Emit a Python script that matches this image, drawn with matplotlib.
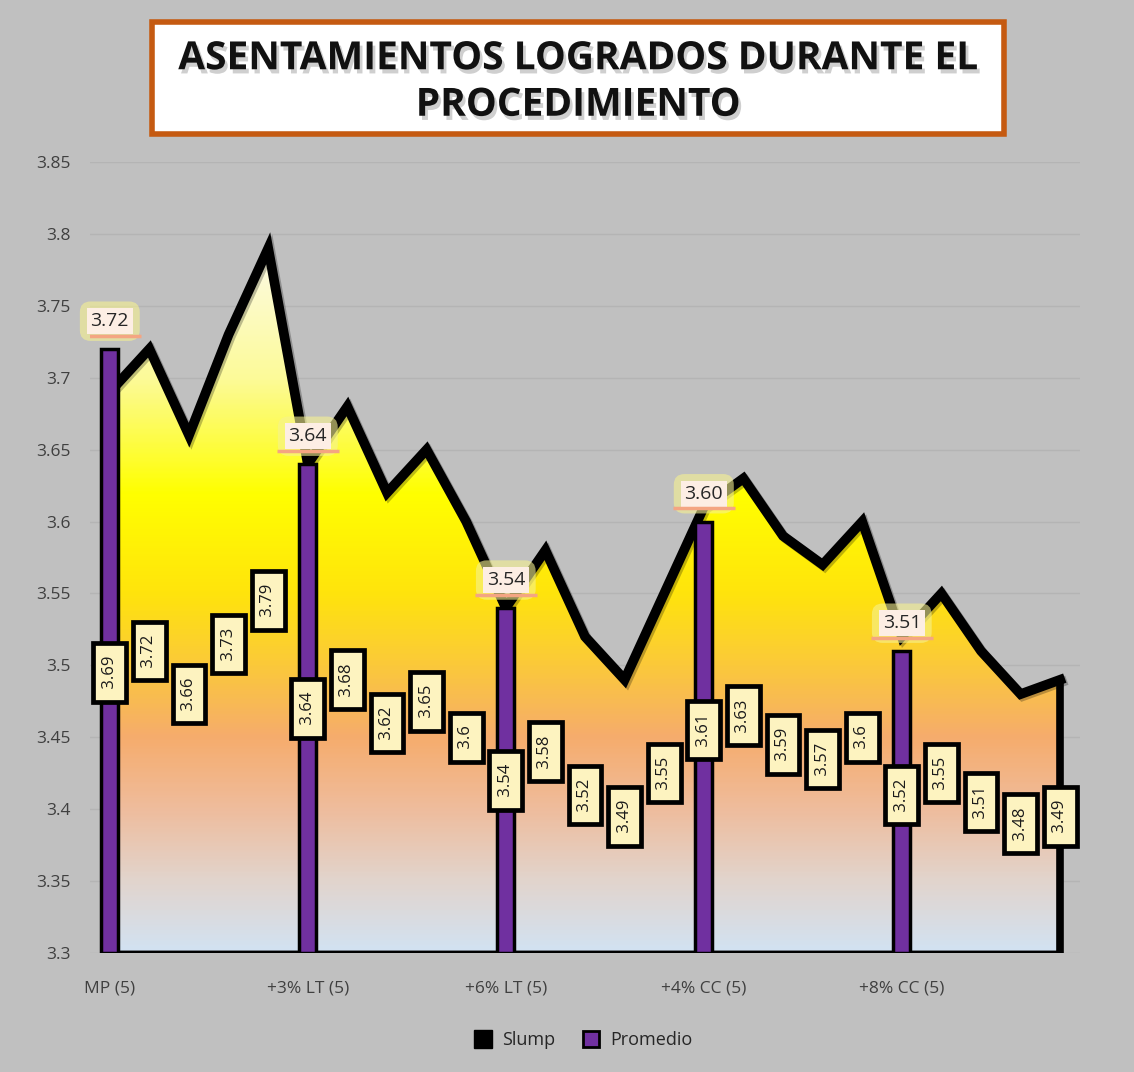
import numpy as np
import matplotlib
matplotlib.use("Agg")
import matplotlib.pyplot as plt
from matplotlib.patches import Polygon, Rectangle
from matplotlib.colors import LinearSegmentedColormap
from matplotlib.lines import Line2D
import matplotlib.patheffects as pe
import matplotlib.transforms as mtransforms

# ---------------- data ----------------
slump = [3.69, 3.72, 3.66, 3.73, 3.79,
         3.64, 3.68, 3.62, 3.65, 3.60,
         3.54, 3.58, 3.52, 3.49, 3.55,
         3.61, 3.63, 3.59, 3.57, 3.60,
         3.52, 3.55, 3.51, 3.48, 3.49]
slump_labels = ["3.69", "3.72", "3.66", "3.73", "3.79",
                "3.64", "3.68", "3.62", "3.65", "3.6",
                "3.54", "3.58", "3.52", "3.49", "3.55",
                "3.61", "3.63", "3.59", "3.57", "3.6",
                "3.52", "3.55", "3.51", "3.48", "3.49"]
promedio = [3.72, 3.64, 3.54, 3.60, 3.51]
promedio_labels = ["3.72", "3.64", "3.54", "3.60", "3.51"]
promedio_idx = [0, 5, 10, 15, 20]
categories = ["MP (5)", "+3% LT (5)", "+6% LT (5)", "+4% CC (5)", "+8% CC (5)"]
y_ticks = [3.3, 3.35, 3.4, 3.45, 3.5, 3.55, 3.6, 3.65, 3.7, 3.75, 3.8, 3.85]
y_tick_labels = ["3.3", "3.35", "3.4", "3.45", "3.5", "3.55", "3.6", "3.65",
                 "3.7", "3.75", "3.8", "3.85"]
title = "ASENTAMIENTOS LOGRADOS DURANTE EL\nPROCEDIMIENTO"

BASE = 3.3
plt.rcParams['font.family'] = ['Open Sans', 'DejaVu Sans']

BG = '#c0c0c0'
fig = plt.figure(figsize=(11.34, 10.72), dpi=100, facecolor=BG)
ax = fig.add_axes([90/1134, (1072-953)/1072, 990/1134, (953-162)/1072], facecolor=BG)

x = np.arange(len(slump))

# grid
ax.set_yticks(y_ticks)
ax.set_yticklabels(y_tick_labels, fontsize=12.5, color='#404040')
ax.yaxis.grid(True, color='#b4b4b4', lw=1)
ax.set_axisbelow(True)
ax.tick_params(axis='y', length=0, pad=14)
for s in ax.spines.values():
    s.set_visible(False)

# gradient-filled area
ys = np.array(slump)
poly_xy = np.column_stack([np.concatenate([[x[0]], x, [x[-1]]]),
                           np.concatenate([[BASE], ys, [BASE]])])
poly = Polygon(poly_xy, closed=True, facecolor='none', edgecolor='black',
               lw=3.5, zorder=2, joinstyle='miter')
ax.add_patch(poly)

top = max(slump)
stops = [(3.30, '#d2e2f2'), (3.35, '#e2d4cc'), (3.40, '#efbc9c'),
         (3.45, '#f6ac6c'), (3.50, '#fbc93a'), (3.55, '#ffe40c'),
         (3.62, '#ffff00'), (3.70, '#fcfa98'), (top, '#fdfbe6')]
cmap = LinearSegmentedColormap.from_list(
    'g', [((v - BASE) / (top - BASE), c) for v, c in stops])
grad = np.linspace(0, 1, 400).reshape(-1, 1)
im = ax.imshow(grad, cmap=cmap, origin='lower', aspect='auto',
               extent=[x[0], x[-1], BASE, top], zorder=1, interpolation='bilinear')
im.set_clip_path(poly)
ax.set_xlim(-0.5, len(slump) - 0.5)
ax.set_ylim(3.3, 3.85)

# top line
ax.plot(x, slump, color='black', lw=7, solid_joinstyle='miter', zorder=3,
        path_effects=[pe.SimpleLineShadow(offset=(1.5, -1.5), alpha=0.25), pe.Normal()])
ax.plot([x[-1], x[-1]], [slump[-1], BASE], color='black', lw=5.5, zorder=3,
        solid_capstyle='butt')

# bars
ax.bar(promedio_idx, np.array(promedio) - BASE, bottom=BASE, width=0.42,
       color='#7030a0', edgecolor='black', lw=2.5, zorder=4)

# slump labels (centered in area)
for i, (v, lab) in enumerate(zip(slump, slump_labels)):
    ax.text(i, (BASE + v) / 2, " " + lab + " ", rotation=90, ha='center', va='center',
            fontsize=12, color='#1a1a1a', zorder=6,
            bbox=dict(boxstyle='square,pad=0.5', facecolor='#fdf3c0',
                      edgecolor='black', lw=3.4))

# promedio labels
for i, v, lab in zip(promedio_idx, promedio, promedio_labels):
    tr = mtransforms.offset_copy(ax.transData, fig=fig, y=20, units='points')
    # soft yellow glow
    ax.text(i, v, lab, transform=tr, ha='center', va='center', fontsize=14,
            color='none', zorder=6.5,
            bbox=dict(boxstyle='round,pad=0.55', facecolor='#f6f290',
                      edgecolor='none', alpha=0.6))
    ax.text(i, v, lab, transform=tr, ha='center', va='center', fontsize=14,
            color='#262626', zorder=7,
            bbox=dict(boxstyle='square,pad=0.2', facecolor='#fdeee4',
                      edgecolor='none'))
    tr2 = mtransforms.offset_copy(ax.transData, fig=fig, y=9.5, units='points')
    ax.plot([i - 0.78, i + 0.78], [v, v], transform=tr2, color='#f4a582',
            lw=2.5, zorder=8, solid_capstyle='butt')

# x ticks
ax.set_xticks(promedio_idx)
ax.set_xticklabels(categories, fontsize=12.5, color='#404040')
ax.tick_params(axis='x', length=0, pad=20)

# title box
fig.patches.append(Rectangle((152/1134, 1 - 134/1072), (1004-152)/1134, (134-22)/1072,
                             transform=fig.transFigure, facecolor='white',
                             edgecolor='#c55a11', lw=4, zorder=0))
fig.text(578/1134, 1 - 82/1072, title, ha='center', va='center', fontsize=28,
         fontweight='bold', color='#111111', linespacing=1.25,
         path_effects=[pe.SimplePatchShadow(offset=(2, -3), shadow_rgbFace='#888888', alpha=0.4),
                       pe.Normal()])

# legend
handles = [Line2D([], [], marker='s', ls='none', markersize=13, markerfacecolor='black',
                  markeredgecolor='black'),
           Line2D([], [], marker='s', ls='none', markersize=11, markerfacecolor='#7030a0',
                  markeredgecolor='black', markeredgewidth=2)]
fig.legend(handles, ['Slump', 'Promedio'], loc='center', bbox_to_anchor=(0.51, 1 - 1040/1072),
           ncol=2, frameon=False, fontsize=13, handletextpad=0.05, columnspacing=1.0,
           labelcolor='#262626')

fig.savefig('out.png', dpi=100, facecolor=BG)
